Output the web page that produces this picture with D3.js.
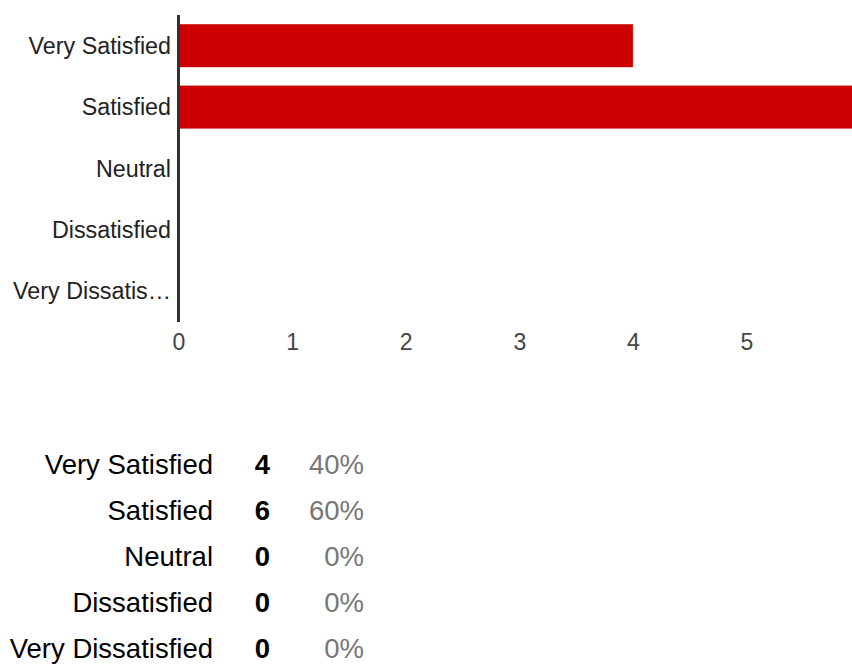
<!DOCTYPE html>
<html><head><meta charset="utf-8">
<script src="https://cdn.jsdelivr.net/npm/d3@7"></script>
<style>body{margin:0;background:#fff}svg{display:block}</style>
</head><body>
<svg id="c" width="852" height="664"></svg>
<script>
const categories = ["Very Satisfied","Satisfied","Neutral","Dissatisfied","Very Dissatisfied"];
const axisLabels = ["Very Satisfied","Satisfied","Neutral","Dissatisfied","Very Dissatis…"];
const counts = [4,6,0,0,0];
const percents = ["40%","60%","0%","0%","0%"];
const xTicks = [0,1,2,3,4,5];

const svg = d3.select("#c");
const font = "'Liberation Sans', Arial, sans-serif";
const x = d3.scaleLinear().domain([0,6]).range([178.5, 860.1]);
const y = d3.scaleBand().domain(categories).range([15,322]).paddingInner(0.3).paddingOuter(0.15);

svg.selectAll("rect.bar").data(categories).join("rect").attr("class","bar")
  .attr("x", x(0)).attr("y", d=>y(d))
  .attr("width", (d,i)=>Math.max(0, x(counts[i])-x(0)))
  .attr("height", y.bandwidth()).attr("fill","#cc0000");

// y labels
svg.selectAll("text.yl").data(categories).join("text").attr("class","yl")
  .attr("x",171).attr("y", d=>y(d)+y.bandwidth()/2).attr("dy","0.35em")
  .attr("text-anchor","end").attr("font-family",font).attr("font-size",23.3)
  .attr("fill","#222").text((d,i)=>axisLabels[i]);

// x axis labels
const xa = svg.append("g").attr("transform","translate(0,334)")
  .call(d3.axisBottom(x).tickValues(xTicks).tickFormat(d3.format("d")).tickSize(0).tickPadding(0));
xa.select(".domain").remove();
xa.selectAll("text").attr("font-family",font).attr("font-size",23).attr("fill","#444").attr("dy","0.71em");

// baseline axis
svg.append("line").attr("x1",x(0)).attr("x2",x(0)).attr("y1",15).attr("y2",322)
  .attr("stroke","#333").attr("stroke-width",3);

// table
const rowY = d3.scalePoint().domain(categories).range([464,648]);
const tg = svg.append("g").attr("font-family",font).attr("font-size",27.5);
tg.selectAll("text.tl").data(categories).join("text").attr("class","tl")
  .attr("x",213).attr("y",d=>rowY(d)).attr("dy","0.35em").attr("text-anchor","end")
  .attr("fill","#000").text(d=>d);
tg.selectAll("text.tc").data(categories).join("text").attr("class","tc")
  .attr("x",262.5).attr("y",d=>rowY(d)).attr("dy","0.35em").attr("text-anchor","middle")
  .attr("font-weight","bold").attr("fill","#000").text((d,i)=>counts[i]);
tg.selectAll("text.tp").data(categories).join("text").attr("class","tp")
  .attr("x",364).attr("y",d=>rowY(d)).attr("dy","0.35em").attr("text-anchor","end")
  .attr("fill","#777").text((d,i)=>percents[i]);
</script>
</body></html>
